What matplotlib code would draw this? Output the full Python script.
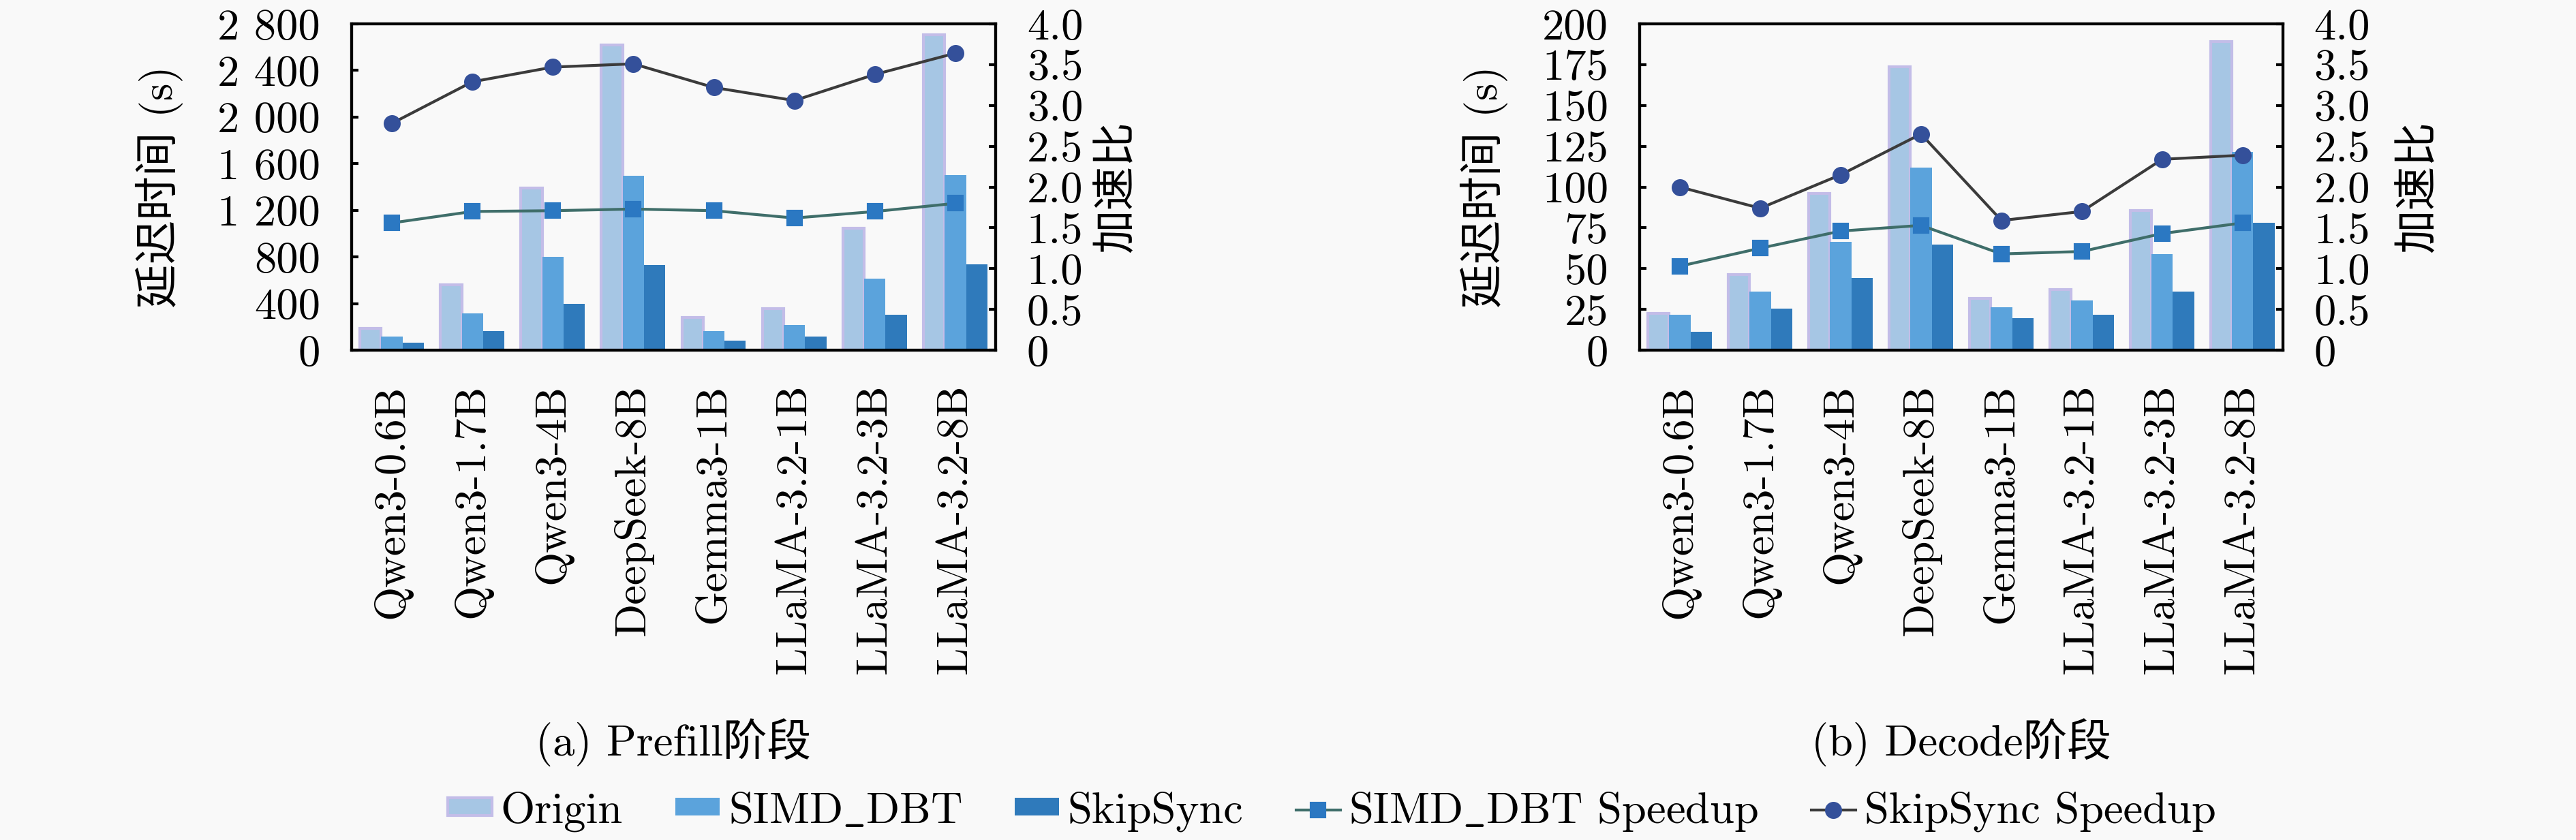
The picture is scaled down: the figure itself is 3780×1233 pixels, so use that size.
import numpy as np
import matplotlib
matplotlib.use('Agg')
import matplotlib.pyplot as plt

models = ['Qwen3-0.6B', 'Qwen3-1.7B', 'Qwen3-4B', 'DeepSeek-8B', 'Gemma3-1B',
          'LLaMA-3.2-1B', 'LLaMA-3.2-3B', 'LLaMA-3.2-8B']

# prefill latency (s)
prefill_origin = [188, 563, 1394, 2618, 282, 359, 1049, 2708]
prefill_simd = [115, 313, 799, 1498, 163, 215, 615, 1502]
prefill_skip = [63, 163, 396, 730, 83, 115, 307, 734]
prefill_simd_speedup = [1.56, 1.70, 1.71, 1.73, 1.71, 1.62, 1.70, 1.80]
prefill_skip_speedup = [2.78, 3.29, 3.47, 3.51, 3.22, 3.06, 3.38, 3.64]

# decode latency (s)
decode_origin = [22.4, 46.2, 96.1, 173.6, 31.6, 37.3, 85.7, 189.3]
decode_simd = [21.9, 35.8, 66.3, 112.1, 26.4, 30.4, 58.9, 121.5]
decode_skip = [11.2, 25.6, 44.4, 64.8, 19.7, 21.6, 36.1, 78.2]
decode_simd_speedup = [1.03, 1.25, 1.46, 1.53, 1.18, 1.21, 1.43, 1.56]
decode_skip_speedup = [2.00, 1.74, 2.15, 2.65, 1.59, 1.70, 2.34, 2.39]

prefill_yticks = [0, 400, 800, 1200, 1600, 2000, 2400, 2800]
prefill_yticklabels = ['0', '400', '800', '1 200', '1 600', '2 000', '2 400', '2 800']
decode_yticks = [0, 25, 50, 75, 100, 125, 150, 175, 200]
decode_yticklabels = ['0', '25', '50', '75', '100', '125', '150', '175', '200']
speed_ticks = [0, 0.5, 1.0, 1.5, 2.0, 2.5, 3.0, 3.5, 4.0]
speed_ticklabels = ['0', '0.5', '1.0', '1.5', '2.0', '2.5', '3.0', '3.5', '4.0']

series_names = ['Origin', r'SIMD$\_$DBT', 'SkipSync',
                r'SIMD$\_$DBT Speedup', 'SkipSync Speedup']

FAM = ['cmr10', 'DejaVu Serif', 'Noto Sans CJK SC']
FS = 15.5
BG = '#f9f9f9'
C_ORIGIN = '#a6c6e4'
C_ORIGIN_EDGE = '#c3bde8'
C_SIMD = '#5ba3dc'
C_SKIP = '#2f7abb'

plt.rcParams['font.family'] = FAM
plt.rcParams['font.size'] = FS
plt.rcParams['axes.unicode_minus'] = False
plt.rcParams['mathtext.fontset'] = 'cm'


def draw(fig, rect, origin, simd, skip, simd_sp, skip_sp, ymax, yticks, yticklabels,
         caption, rpad):
    ax = fig.add_axes(rect)
    ax.set_facecolor(BG)
    x = np.arange(len(models))
    w = 0.265
    ax.bar(x - w, origin, w, color=C_ORIGIN, edgecolor=C_ORIGIN_EDGE, linewidth=1.0,
           label=series_names[0])
    ax.bar(x, simd, w, color=C_SIMD, linewidth=0, label=series_names[1])
    ax.bar(x + w, skip, w, color=C_SKIP, linewidth=0, label=series_names[2])
    ax.set_xlim(-0.5, len(models) - 0.5)
    ax.set_ylim(0, ymax)
    ax.set_yticks(yticks)
    ax.set_yticklabels(yticklabels)
    ax.set_xticks(x)
    ax.set_xticklabels(models, rotation=90)
    ax.tick_params(axis='x', length=0, pad=12)
    ax.tick_params(axis='y', direction='in', length=2.5, width=1.0, pad=11)
    ax.set_ylabel('延迟时间 (s)', labelpad=12)

    ax2 = ax.twinx()
    ax2.plot(x, simd_sp, color='#3f6e6a', lw=1.0, marker='s', ms=5,
             mfc='#2b78c2', mec='#2b78c2', label=series_names[3])
    ax2.plot(x, skip_sp, color='#3b3b3b', lw=1.0, marker='o', ms=5,
             mfc='#34509a', mec='#34509a', label=series_names[4])
    ax2.set_ylim(0, 4.0)
    ax2.set_yticks(speed_ticks)
    ax2.set_yticklabels(speed_ticklabels)
    ax2.tick_params(axis='y', direction='in', length=2.5, width=1.0, pad=11)
    ax2.set_ylabel('加速比', labelpad=rpad)

    for a in (ax, ax2):
        for s in a.spines.values():
            s.set_linewidth(1.0)

    cx = rect[0] + rect[2] / 2
    fig.text(cx, 0.116, caption, ha='center', va='center', fontsize=FS)
    return ax, ax2


fig = plt.figure(figsize=(12.6, 4.11), dpi=300, facecolor=BG)

ax_a, ax_a2 = draw(fig, [0.1365, 0.5831, 0.25, 0.3885], prefill_origin, prefill_simd, prefill_skip,
                   prefill_simd_speedup, prefill_skip_speedup, 2800, prefill_yticks,
                   prefill_yticklabels, '(a) Prefill阶段', 5)
ax_b, ax_b2 = draw(fig, [0.6365, 0.5831, 0.2497, 0.3885], decode_origin, decode_simd, decode_skip,
                   decode_simd_speedup, decode_skip_speedup, 200, decode_yticks,
                   decode_yticklabels, '(b) Decode阶段', 10)

h1, l1 = ax_a.get_legend_handles_labels()
h2, l2 = ax_a2.get_legend_handles_labels()
fig.legend(h1 + h2, l1 + l2, loc='center', bbox_to_anchor=(0.517, 0.034), ncol=5,
           frameon=False, handlelength=1.0, handleheight=0.25, handletextpad=0.2,
           columnspacing=1.2, fontsize=FS)

fig.savefig('out.png', dpi=300, facecolor=BG)
